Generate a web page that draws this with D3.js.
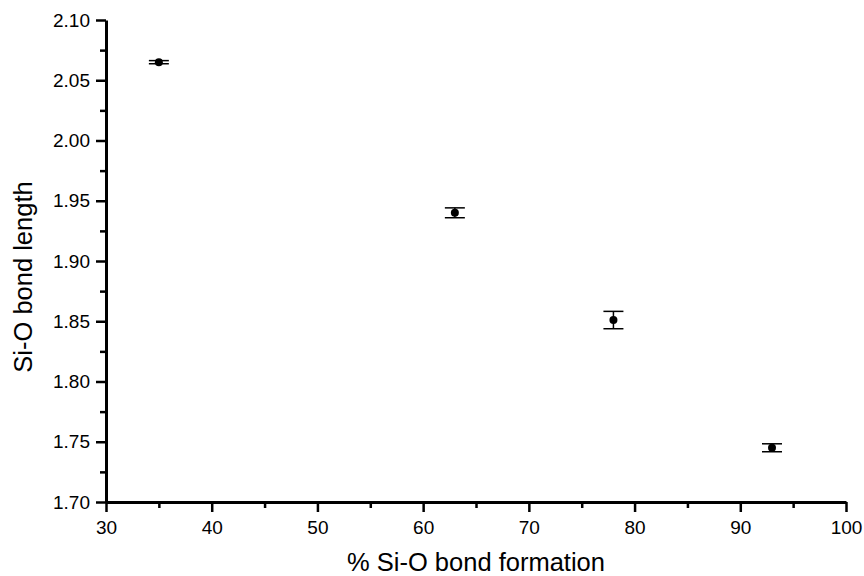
<!DOCTYPE html>
<meta charset="utf-8">
<head>
    <script type="text/javascript" src="https://cdn.jsdelivr.net/npm/d3@7"></script>
    <style>
        body { margin: 0; background: #fff; }
        text { font-family: "Liberation Sans", Arial, sans-serif; fill: #000; }
        .axis path, .axis line { stroke: #000; }
    </style>
    <title>Si-O bond length vs bond formation</title>
</head>
<body>
<script>
    // data
    var formation = [35, 63, 78, 93];            // % Si-O bond formation
    var bondLength = [2.065, 1.940, 1.851, 1.745];
    var bondErr = [0.0013, 0.0041, 0.0072, 0.0033];

    var xMajor = [30, 40, 50, 60, 70, 80, 90, 100];
    var xMinor = [35, 45, 55, 65, 75, 85, 95];
    var yMajor = [1.70, 1.75, 1.80, 1.85, 1.90, 1.95, 2.00, 2.05, 2.10];
    var yMinor = [1.725, 1.775, 1.825, 1.875, 1.925, 1.975, 2.025, 2.075];

    var margin = {top: 20, right: 18, bottom: 74, left: 106};
    var W = 864, H = 576;
    var width = W - margin.left - margin.right;
    var height = H - margin.top - margin.bottom;

    var svg = d3.select("body").append("svg")
        .attr("width", W)
        .attr("height", H);

    var g = svg.append("g")
        .attr("transform", "translate(" + margin.left + "," + margin.top + ")");

    var x = d3.scaleLinear().domain([30, 100]).range([0, width]);
    var y = d3.scaleLinear().domain([1.70, 2.10]).range([height, 0]);

    // minor ticks first
    g.append("g").attr("class", "axis")
        .attr("transform", "translate(0," + height + ")")
        .call(d3.axisBottom(x).tickValues(xMinor).tickSize(6).tickFormat(""))
        .call(s => s.select(".domain").remove())
        .selectAll("line").attr("stroke-width", 2.5);
    g.append("g").attr("class", "axis")
        .call(d3.axisLeft(y).tickValues(yMinor).tickSize(6).tickFormat(""))
        .call(s => s.select(".domain").remove())
        .selectAll("line").attr("stroke-width", 2.5);

    // major axes
    var xAxis = g.append("g").attr("class", "axis")
        .attr("transform", "translate(0," + height + ")")
        .call(d3.axisBottom(x).tickValues(xMajor).tickSize(10).tickSizeOuter(0).tickPadding(9).tickFormat(d3.format("d")));
    var yAxis = g.append("g").attr("class", "axis")
        .call(d3.axisLeft(y).tickValues(yMajor).tickSize(10).tickSizeOuter(0).tickPadding(6).tickFormat(d3.format(".2f")));

    [xAxis, yAxis].forEach(function (a) {
        a.select(".domain").attr("stroke-width", 3);
        a.selectAll("line").attr("stroke-width", 2.5);
        a.selectAll("text").style("font-size", "19px").attr("fill", "#000");
    });

    // error bars
    var capW = 10;
    var pts = g.append("g").selectAll("g")
        .data(formation.map((d, i) => ({x: d, y: bondLength[i], e: bondErr[i]})))
        .enter().append("g");

    pts.append("line")
        .attr("x1", d => x(d.x)).attr("x2", d => x(d.x))
        .attr("y1", d => y(d.y - d.e)).attr("y2", d => y(d.y + d.e))
        .attr("stroke", "#000").attr("stroke-width", 1.5);
    pts.append("line")
        .attr("x1", d => x(d.x) - capW).attr("x2", d => x(d.x) + capW)
        .attr("y1", d => y(d.y + d.e)).attr("y2", d => y(d.y + d.e))
        .attr("stroke", "#000").attr("stroke-width", 1.5);
    pts.append("line")
        .attr("x1", d => x(d.x) - capW).attr("x2", d => x(d.x) + capW)
        .attr("y1", d => y(d.y - d.e)).attr("y2", d => y(d.y - d.e))
        .attr("stroke", "#000").attr("stroke-width", 1.5);
    pts.append("circle")
        .attr("cx", d => x(d.x)).attr("cy", d => y(d.y))
        .attr("r", 4).attr("fill", "#000");

    // axis titles
    svg.append("text")
        .attr("x", margin.left + width / 2)
        .attr("y", 571)
        .attr("text-anchor", "middle")
        .style("font-size", "25.5px")
        .text("% Si-O bond formation");

    svg.append("text")
        .attr("transform", "rotate(-90)")
        .attr("x", -277)
        .attr("y", 32)
        .attr("text-anchor", "middle")
        .style("font-size", "25.5px")
        .text("Si-O bond length");
</script>
</body>
</html>
